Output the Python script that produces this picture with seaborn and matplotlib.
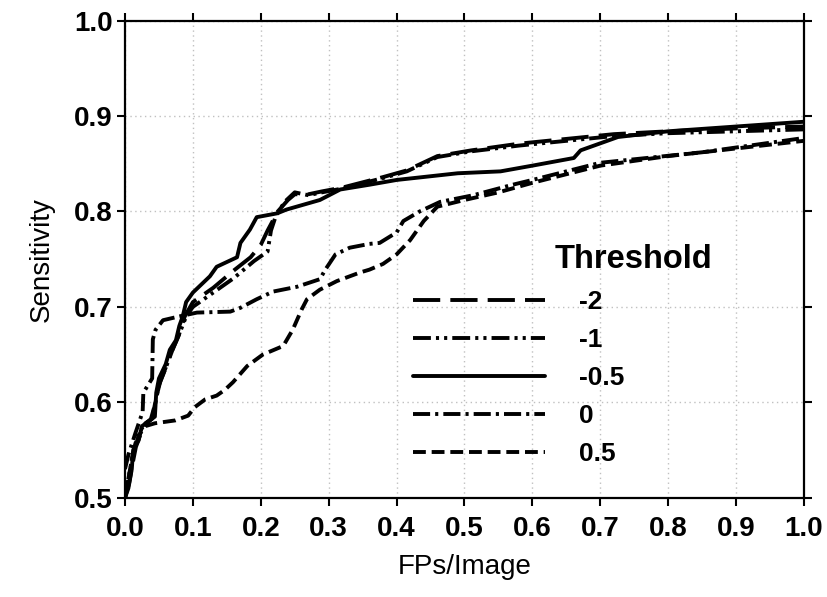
import numpy as np
import pandas as pd
import matplotlib
matplotlib.use("Agg")
import matplotlib.pyplot as plt
import seaborn as sns

# ---- data ----
thresholds = ["-2", "-1", "-0.5", "0", "0.5"]

x_m2 = [0.0, 0.006, 0.011, 0.016, 0.022, 0.03, 0.04, 0.046, 0.052, 0.062, 0.07, 0.08, 0.088, 0.1, 0.13, 0.16, 0.185, 0.2, 0.21, 0.225, 0.24, 0.25,
        0.27, 0.29, 0.32, 0.38, 0.415, 0.46, 0.51, 0.58, 0.65, 0.72, 0.8, 0.9, 1.0]
y_m2 = [0.50, 0.515, 0.535, 0.553, 0.565, 0.578, 0.583, 0.605, 0.622, 0.64, 0.655, 0.672, 0.69, 0.705, 0.72, 0.738, 0.752, 0.765, 0.78, 0.80, 0.812, 0.818,
        0.818, 0.821, 0.825, 0.836, 0.843, 0.858, 0.864, 0.871, 0.876, 0.881, 0.884, 0.887, 0.889]

x_m1 = [0.0, 0.005, 0.01, 0.015, 0.02, 0.028, 0.038, 0.045, 0.05, 0.06, 0.068, 0.078, 0.09, 0.1, 0.13, 0.16, 0.19, 0.21, 0.215, 0.222, 0.235, 0.25,
        0.27, 0.29, 0.32, 0.38, 0.415, 0.46, 0.51, 0.58, 0.65, 0.72, 0.8, 0.9, 1.0]
y_m1 = [0.50, 0.52, 0.54, 0.556, 0.568, 0.576, 0.582, 0.60, 0.618, 0.636, 0.652, 0.668, 0.69, 0.70, 0.715, 0.73, 0.748, 0.758, 0.78, 0.795, 0.81, 0.82,
        0.817, 0.82, 0.824, 0.835, 0.842, 0.857, 0.863, 0.869, 0.874, 0.879, 0.882, 0.884, 0.886]

x_m05 = [0.0, 0.005, 0.01, 0.012, 0.02, 0.025, 0.035, 0.044, 0.046, 0.05, 0.06, 0.066, 0.075, 0.08, 0.085, 0.09, 0.1, 0.125, 0.135, 0.165, 0.17, 0.184,
         0.194, 0.224, 0.238, 0.287, 0.317, 0.36, 0.40, 0.49, 0.553, 0.6, 0.661, 0.671, 0.726, 0.80, 0.9, 1.0]
y_m05 = [0.50, 0.51, 0.53, 0.55, 0.56, 0.575, 0.58, 0.585, 0.61, 0.625, 0.64, 0.655, 0.665, 0.68, 0.69, 0.705, 0.715, 0.732, 0.742, 0.752, 0.767, 0.781,
         0.794, 0.798, 0.802, 0.812, 0.823, 0.828, 0.833, 0.840, 0.842, 0.848, 0.856, 0.864, 0.878, 0.884, 0.889, 0.894]

x_0 = [0.0, 0.005, 0.015, 0.026, 0.027, 0.04, 0.041, 0.045, 0.056, 0.08, 0.106, 0.155, 0.17, 0.194, 0.218, 0.253, 0.287, 0.295, 0.31, 0.331, 0.36,
       0.375, 0.4, 0.41, 0.434, 0.464, 0.513, 0.571, 0.6, 0.7, 0.85, 1.0]
y_0 = [0.53, 0.545, 0.567, 0.59, 0.61, 0.625, 0.666, 0.676, 0.686, 0.69, 0.694, 0.695, 0.699, 0.708, 0.716, 0.721, 0.729, 0.739, 0.755, 0.762, 0.766,
       0.767, 0.778, 0.79, 0.80, 0.81, 0.817, 0.828, 0.833, 0.851, 0.862, 0.877]

x_05 = [0.0, 0.01, 0.02, 0.03, 0.044, 0.074, 0.093, 0.103, 0.118, 0.135, 0.147, 0.159, 0.18, 0.203, 0.233, 0.247, 0.26, 0.268, 0.287, 0.312, 0.346,
        0.36, 0.38, 0.40, 0.42, 0.44, 0.46, 0.5, 0.55, 0.6, 0.7, 0.8, 0.9, 1.0]
y_05 = [0.50, 0.54, 0.565, 0.575, 0.578, 0.581, 0.586, 0.595, 0.603, 0.607, 0.613, 0.621, 0.638, 0.65, 0.659, 0.676, 0.697, 0.708, 0.718, 0.727, 0.736,
        0.739, 0.745, 0.755, 0.77, 0.79, 0.805, 0.812, 0.82, 0.83, 0.848, 0.858, 0.866, 0.874]

xs = [x_m2, x_m1, x_m05, x_0, x_05]
ys = [y_m2, y_m1, y_m05, y_0, y_05]

frames = []
for t, xv, yv in zip(thresholds, xs, ys):
    frames.append(pd.DataFrame({"FPs/Image": xv, "Sensitivity": yv, "Threshold": t}))
df = pd.concat(frames, ignore_index=True)

# ---- style ----
sns.set_style("white")
plt.rcParams['font.family'] = ['Liberation Sans', 'DejaVu Sans']
plt.rcParams['text.color'] = 'black'
plt.rcParams['axes.labelcolor'] = 'black'

fig = plt.figure(figsize=(8.28, 5.97), dpi=100)
ax = fig.add_axes([125 / 828, 1 - 497.7 / 597, 679 / 828, 477.1 / 597])

dash_map = {
    "-2": (7.0, 2.6),
    "-1": (4.6, 1.3, 0.8, 1.3, 0.8, 1.3),
    "-0.5": "",
    "0": (4.4, 1.3, 0.8, 1.3),
    "0.5": (3.3, 1.5),
}

sns.lineplot(data=df, x="FPs/Image", y="Sensitivity", style="Threshold",
             style_order=thresholds, dashes=dash_map, color="black",
             estimator=None, sort=False, linewidth=2.8, ax=ax,
             legend="full")

ax.set_xlim(0, 1)
ax.set_ylim(0.5, 1.0)
ax.set_xticks(np.arange(0, 1.01, 0.1))
ax.set_yticks(np.arange(0.5, 1.01, 0.1))
ax.set_xticklabels([f"{v:.1f}" for v in np.arange(0, 1.01, 0.1)])
ax.set_yticklabels([f"{v:.1f}" for v in np.arange(0.5, 1.01, 0.1)])

ax.grid(True, color="#c0c0c0", linestyle=(0, (1, 2.5)), linewidth=1.0)
for s in ax.spines.values():
    s.set_visible(True)
    s.set_color("black")
    s.set_linewidth(1.6)

ax.tick_params(axis="both", which="both", direction="out", length=6, width=1.5,
               top=True, right=True, bottom=True, left=True,
               labeltop=False, labelright=False, labelsize=20, colors="black")
for lab in ax.get_xticklabels() + ax.get_yticklabels():
    lab.set_fontweight("bold")
ax.tick_params(axis="x", pad=7)
ax.tick_params(axis="y", pad=3)

ax.set_xlabel("FPs/Image", fontsize=20, labelpad=9, color="black")
ax.set_ylabel("Sensitivity", fontsize=20, labelpad=14, color="black")

handles, labels = ax.get_legend_handles_labels()
pairs = [(h, l) for h, l in zip(handles, labels) if l in thresholds]
leg = ax.legend([p[0] for p in pairs], [p[1] for p in pairs], loc="upper left",
                bbox_to_anchor=((413 - 125) / 679, 1 - (290 - 20.6) / 477.1),
                frameon=False, fontsize=19, handlelength=5.0, handletextpad=1.3,
                labelspacing=0.53, borderpad=0, borderaxespad=0)
for h in leg.get_lines():
    h.set_linewidth(2.8)
    h.set_color("black")
for t in leg.get_texts():
    t.set_color("black")
    t.set_fontweight("bold")

ax.text((555 - 125) / 679, 1 - (260 - 20.6) / 477.1, "Threshold", transform=ax.transAxes,
        fontsize=23.5, fontweight="bold", ha="left", va="center", color="black")

fig.savefig("out.png", dpi=100)
